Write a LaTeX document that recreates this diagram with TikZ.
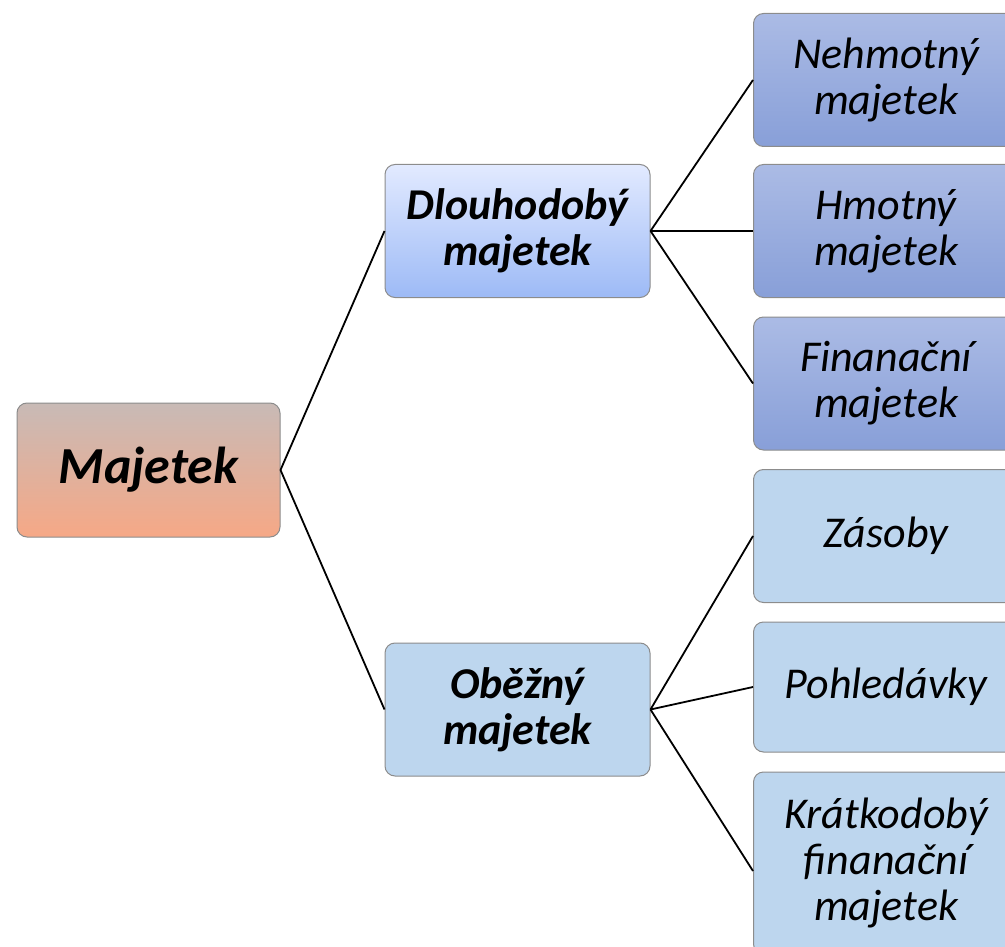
\documentclass[tikz,border=0pt]{standalone}
\usepackage{fontspec}
\setmainfont{Carlito}
\definecolor{majtop}{HTML}{C8BAB6}
\definecolor{majbot}{HTML}{F6A886}
\definecolor{dltop}{HTML}{E2EAFF}
\definecolor{dlbot}{HTML}{9DBAF6}
\definecolor{rtop}{HTML}{ABBBE5}
\definecolor{rbot}{HTML}{889FD8}
\definecolor{lblue}{HTML}{BDD6EE}
\definecolor{edge}{HTML}{8C8C8C}
\begin{document}
\begin{tikzpicture}[x=1pt,y=-1pt,
  box/.style={draw=edge, rounded corners=10pt, line width=1pt, align=center, inner sep=0pt,
    minimum width=265pt, minimum height=133pt},
  lvlone/.style={box, minimum width=263pt, minimum height=134pt, top color=majtop, bottom color=majbot,
    font=\fontsize{52}{56}\selectfont\bfseries\itshape},
  lvltwo/.style={box, font=\fontsize{44}{46}\selectfont\bfseries\itshape},
  leaf/.style={box, font=\fontsize{44}{46}\selectfont\itshape},
  darkleaf/.style={leaf, top color=rtop, bottom color=rbot},
  lightleaf/.style={leaf, fill=lblue},
  link/.style={draw=black, line width=1.8pt}]
\useasboundingbox (0,0) rectangle (1005,947);
\clip (0,0) rectangle (1005,947);
\node[lvlone] (maj) at (148.5,470) {Majetek};
\node[lvltwo, top color=dltop, bottom color=dlbot] (dl) at (517.5,231) {Dlouhodobý\\majetek};
\node[lvltwo, fill=lblue] (ob) at (517.5,709.5) {Oběžný\\majetek};
\node[darkleaf] (neh) at (886,80) {Nehmotný\\majetek};
\node[darkleaf] (hmo) at (886,231) {Hmotný\\majetek};
\node[darkleaf] (fin) at (886,383.5) {Finanační\\majetek};
\node[lightleaf] (zas) at (886,536) {Zásoby};
\node[lightleaf, minimum height=130pt] (poh) at (886,687) {Pohledávky};
\node[lightleaf, minimum height=182pt] (kra) at (886,863) {Krátkodobý\\finanační\\majetek};
\draw[link] (maj.east) -- (dl.west);
\draw[link] (maj.east) -- (ob.west);
\draw[link] (dl.east) -- (neh.west);
\draw[link] (dl.east) -- (hmo.west);
\draw[link] (dl.east) -- (fin.west);
\draw[link] (ob.east) -- (zas.west);
\draw[link] (ob.east) -- (poh.west);
\draw[link] (ob.east) -- ([yshift=-8pt]kra.west);
\end{tikzpicture}
\end{document}
